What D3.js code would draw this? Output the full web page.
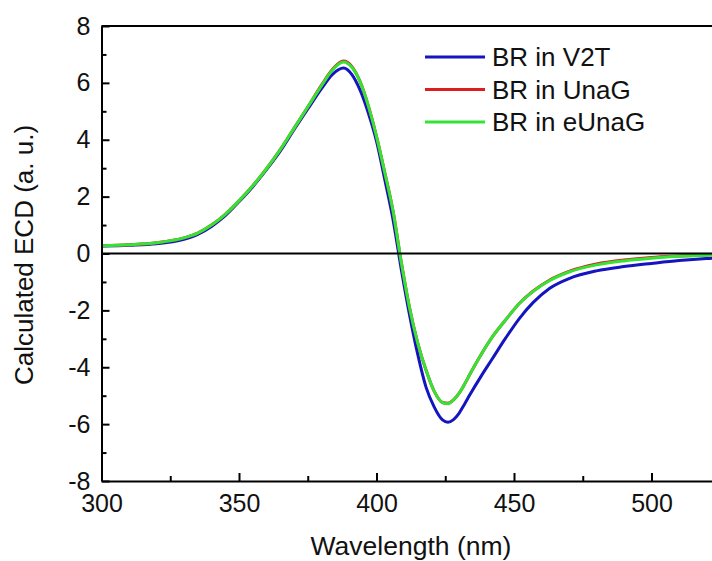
<!DOCTYPE html>
<html><head><meta charset="utf-8">
<script src="https://cdn.jsdelivr.net/npm/d3@7"></script>
<style>body{margin:0;background:#fff}svg{display:block}text{font-family:"Liberation Sans",Arial,sans-serif;fill:#111}</style>
</head><body><svg id="c" width="712" height="561"></svg>
<script>
const wavelengths = [300,310,320,330,335,340,345,350,355,360,365,370,375,380,384,388,391,394,397,400,403,406,409,412,415,418,421,424,426,428,430,432,434,438,442,447,452,457,463,470,480,490,500,510,520,530];
const v2t   = [0.26,0.29,0.34,0.50,0.67,0.95,1.33,1.82,2.35,2.95,3.60,4.35,5.08,5.80,6.30,6.52,6.30,5.75,4.95,3.95,2.60,1.20,-0.55,-2.15,-3.55,-4.70,-5.40,-5.85,-5.93,-5.84,-5.62,-5.30,-4.96,-4.32,-3.72,-2.97,-2.28,-1.72,-1.22,-0.88,-0.61,-0.46,-0.35,-0.25,-0.18,-0.14];
const unag  = [0.27,0.31,0.38,0.55,0.72,1.00,1.38,1.85,2.38,2.98,3.65,4.40,5.15,5.92,6.48,6.77,6.58,6.05,5.20,4.12,2.85,1.50,-0.30,-1.90,-3.15,-4.10,-4.85,-5.24,-5.27,-5.15,-4.92,-4.60,-4.24,-3.56,-2.95,-2.33,-1.75,-1.32,-0.93,-0.63,-0.37,-0.23,-0.14,-0.09,-0.05,-0.03];
const eunag = [0.27,0.31,0.38,0.55,0.72,1.00,1.38,1.85,2.38,2.98,3.65,4.40,5.15,5.90,6.45,6.73,6.55,6.05,5.20,4.12,2.85,1.50,-0.30,-1.90,-3.15,-4.10,-4.85,-5.24,-5.28,-5.15,-4.92,-4.60,-4.24,-3.56,-2.95,-2.33,-1.75,-1.33,-0.95,-0.65,-0.40,-0.26,-0.17,-0.10,-0.06,-0.04];
const seriesNames = ["BR in V2T","BR in UnaG","BR in eUnaG"];
const seriesColors = ["#1414c0","#dc1e1e","#35e335"];
const xTicks = [300,350,400,450,500];
const xMinorTicks = [325,375,425,475,525];
const yTicks = [-8,-6,-4,-2,0,2,4,6,8];
const yMinorTicks = [-7,-5,-3,-1,1,3,5,7];

const svg = d3.select("#c");
const L = 101.5, T = 26, B = 481;
const x = d3.scaleLinear().domain([300,550]).range([L, L + 5*137.5]);
const y = d3.scaleLinear().domain([-8,8]).range([B,T]);

const g = svg.append("g");
const data = [v2t, unag, eunag];
const line = d3.line().x((d,i)=>x(wavelengths[i])).y(d=>y(d)).curve(d3.curveMonotoneX);
data.forEach((s,k)=>{
  g.append("path").attr("d", line(s)).attr("fill","none").attr("stroke",seriesColors[k]).attr("stroke-width",3).attr("stroke-linejoin","round");
});
g.append("line").attr("x1",x(300)).attr("x2",712).attr("y1",y(0)).attr("y2",y(0)).attr("stroke","#000").attr("stroke-width",2);
g.append("line").attr("x1",x(300)).attr("x2",712).attr("y1",T).attr("y2",T).attr("stroke","#000").attr("stroke-width",2);

const fmt = d => String(d);
const xAxis = d3.axisBottom(x).tickValues(xTicks).tickSize(-8).tickSizeOuter(0).tickPadding(13).tickFormat(fmt);
const xa = svg.append("g").attr("transform",`translate(0,${B})`).call(xAxis);
xa.selectAll(".tick text").attr("font-size",25).attr("dy","0.71em");
const xMinor = d3.axisBottom(x).tickValues(xMinorTicks).tickSize(-5).tickSizeOuter(0).tickFormat("");
svg.append("g").attr("transform",`translate(0,${B})`).call(xMinor).select(".domain").remove();
const yAxis = d3.axisLeft(y).tickValues(yTicks).tickSize(-8).tickSizeOuter(0).tickPadding(11).tickFormat(fmt);
const ya = svg.append("g").attr("transform",`translate(${L},0)`).call(yAxis);
ya.selectAll(".tick text").attr("font-size",25);
const yMinor = d3.axisLeft(y).tickValues(yMinorTicks).tickSize(-5).tickSizeOuter(0).tickFormat("");
svg.append("g").attr("transform",`translate(${L},0)`).call(yMinor).select(".domain").remove();
svg.selectAll(".domain").attr("stroke","#000").attr("stroke-width",2);
svg.selectAll(".tick line").attr("stroke","#000").attr("stroke-width",2);
svg.selectAll(".tick text").attr("fill","#111").attr("font-family","Liberation Sans, Arial, sans-serif");

svg.append("text").attr("x",411).attr("y",555).attr("text-anchor","middle").attr("font-size",26.5).text("Wavelength (nm)");
svg.append("text").attr("transform","translate(33,255) rotate(-90)").attr("text-anchor","middle").attr("font-size",26).text("Calculated ECD (a. u.)");

const lg = svg.append("g");
seriesNames.forEach((n,k)=>{
  const yy = 57 + k*32.5;
  lg.append("line").attr("x1",425).attr("x2",485).attr("y1",yy).attr("y2",yy).attr("stroke",seriesColors[k]).attr("stroke-width",3);
  lg.append("text").attr("x",492).attr("y",yy).attr("dy","0.35em").attr("font-size",26).text(n);
});
</script></body></html>
